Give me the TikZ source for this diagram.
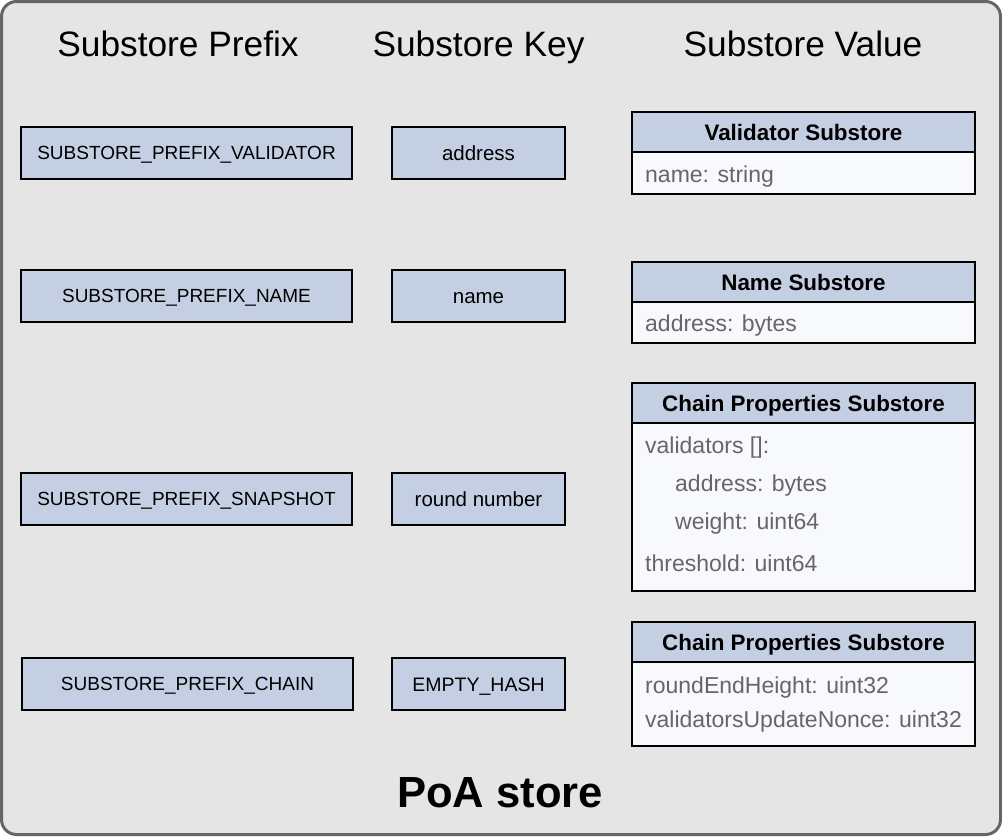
\documentclass[tikz,border=0pt]{standalone}
\usepackage{fontspec}
\setmainfont{Liberation Sans}
\definecolor{hdr}{HTML}{C5CFE3}
\definecolor{bodyf}{HTML}{F8F9FC}
\definecolor{frameb}{HTML}{666666}
\definecolor{framef}{HTML}{E5E5E5}
\definecolor{txtgray}{HTML}{666666}
\tikzset{
  colhead/.style={font=\fontsize{35.3}{40}\selectfont, anchor=base, inner sep=0pt},
  pbox/.style={draw, line width=2pt, fill=hdr, minimum width=331pt, minimum height=52pt, inner sep=0pt,
     font=\fontsize{19}{22}\selectfont, text height=13.6pt, text depth=0pt},
  kbox/.style={draw, line width=2pt, fill=hdr, minimum width=173pt, minimum height=52pt, inner sep=0pt,
     font=\fontsize{20.5}{24}\selectfont, text height=14.7pt, text depth=0pt},
  kboxu/.style={kbox, font=\fontsize{19.5}{23}\selectfont, text height=14pt},
  vhead/.style={draw, line width=2pt, fill=hdr, minimum width=343pt, minimum height=40pt, inner sep=0pt,
     font=\bfseries\fontsize{22.4}{26}\selectfont, text height=16pt, text depth=0pt},
  vbody/.style={draw, line width=2pt, fill=bodyf, minimum width=343pt, inner sep=0pt},
  vtxt/.style={anchor=base west, inner sep=0pt, text=txtgray, font=\fontsize{23}{27}\selectfont},
}
\begin{document}
\begin{tikzpicture}[x=1pt,y=-1pt]
\useasboundingbox (0,0) rectangle (1002,836);
\node[draw=frameb, fill=framef, line width=3pt, rounded corners=15pt, minimum width=999pt, minimum height=833pt, inner sep=0pt] (frame) at (501,418) {};

% column headings
\node[colhead] (hp) at (178,56) {Substore Prefix};
\node[colhead] (hk) at (478.5,56) {Substore Key};
\node[colhead] (hv) at (803,56) {Substore Value};

% prefix boxes
\node[pbox] (p1) at (186.5,153) {SUBSTORE\_PREFIX\_VALIDATOR};
\node[pbox] (p2) at (186.5,296) {SUBSTORE\_PREFIX\_NAME};
\node[pbox] (p3) at (186.5,499) {SUBSTORE\_PREFIX\_SNAPSHOT};
\node[pbox] (p4) at (187.5,684) {SUBSTORE\_PREFIX\_CHAIN};

% key boxes
\node[kbox] (k1) at (478.5,153) {address};
\node[kbox] (k2) at (478.5,296) {name};
\node[kbox] (k3) at (478.5,499) {round number};
\node[kboxu] (k4) at (478.5,684) {EMPTY\_HASH};

% value boxes
\node[vbody, minimum height=42pt] (b1) at (803.5,173) {};
\node[vhead] (v1) at (803.5,132) {Validator Substore};
\node[vtxt] (t11) at (645,182) {name: string};

\node[vbody, minimum height=41pt] (b2) at (803.5,322.5) {};
\node[vhead] (v2) at (803.5,282) {Name Substore};
\node[vtxt] (t21) at (645,331) {address: bytes};

\node[vbody, minimum height=168pt] (b3) at (803.5,507) {};
\node[vhead] (v3) at (803.5,403) {Chain Properties Substore};
\node[vtxt] (t31) at (645,453) {validators []:};
\node[vtxt] (t32) at (675,491.5) {address: bytes};
\node[vtxt] (t33) at (675,529.5) {weight: uint64};
\node[vtxt] (t34) at (645,571.5) {threshold: uint64};

\node[vbody, minimum height=84pt] (b4) at (803.5,704) {};
\node[vhead] (v4) at (803.5,642) {Chain Properties Substore};
\node[vtxt] (t41) at (645,693) {roundEndHeight: uint32};
\node[vtxt] (t42) at (645,727) {validatorsUpdateNonce: uint32};

% title
\node[anchor=base, inner sep=0pt, font=\bfseries\fontsize{43.6}{50}\selectfont] (title) at (500,807) {PoA store};
\end{tikzpicture}
\end{document}
